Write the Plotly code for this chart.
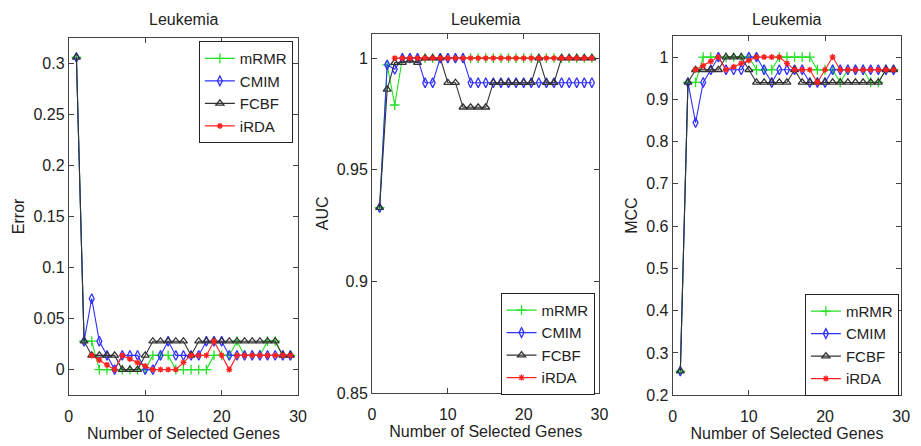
import plotly.graph_objects as go

# ---------------- data ----------------
genes = list(range(1, 30))
series_names = ["mRMR", "CMIM", "FCBF", "iRDA"]

mrmr_err = [0.3056, 0.0278, 0.0278, 0, 0, 0, 0, 0, 0, 0,
            0.0139, 0.0139, 0.0139, 0, 0, 0, 0, 0, 0.0139, 0.0139,
            0.0139, 0.0278, 0.0139, 0.0139, 0.0139, 0.0278, 0.0278, 0.0139, 0.0139]
cmim_err = [0.3056, 0.0278, 0.0694, 0.0278, 0.0139, 0, 0.0139, 0.0139, 0.0139, 0,
            0, 0.0139, 0.0278, 0.0139, 0.0139, 0.0139, 0.0139, 0.0278, 0.0278, 0.0278,
            0.0139, 0.0139, 0.0139, 0.0139, 0.0139, 0.0139, 0.0139, 0.0139, 0.0139]
fcbf_err = [0.3056, 0.0278, 0.0139, 0.0139, 0.0139, 0.0139, 0, 0, 0, 0.0139,
            0.0278, 0.0278, 0.0278, 0.0278, 0.0278, 0.0139, 0.0278, 0.0278, 0.0278, 0.0278,
            0.0278, 0.0278, 0.0278, 0.0278, 0.0278, 0.0278, 0.0278, 0.0139, 0.0139]
irda_err = [None, None, 0.0139, 0.0093, 0.0046, 0, 0.0139, 0.0104, 0.0069, 0.0035,
            0, 0, 0, 0, 0.007, 0.0139, 0.0139, 0.0139, 0.0278, 0.0139,
            0, 0.0139, 0.0139, 0.0139, 0.0139, 0.0139, 0.0139, 0.0139, 0.0139]

mrmr_auc = [0.933, 0.997, 0.979, 1, 1, 1, 1, 1, 1, 1,
            1, 1, 1, 1, 1, 1, 1, 1, 1, 1,
            1, 1, 1, 1, 1, 1, 1, 1, 1]
cmim_auc = [0.933, 0.997, 0.995, 1, 1, 1, 0.989, 0.989, 1, 1,
            1, 1, 0.989, 0.989, 0.989, 0.989, 0.989, 0.989, 0.989, 0.989,
            0.989, 0.989, 0.989, 0.989, 0.989, 0.989, 0.989, 0.989, 0.989]
fcbf_auc = [0.933, 0.986, 0.998, 0.998, 0.999, 0.998, 1, 1, 1, 0.989,
            0.989, 0.978, 0.978, 0.978, 0.978, 0.989, 0.989, 0.989, 0.989, 0.989,
            0.989, 1, 0.989, 0.989, 1, 1, 1, 1, 1]
irda_auc = [None, None, 1, 1, 1, 1, 1, 1, 1, 1,
            1, 1, 1, 1, 1, 1, 1, 1, 1, 1,
            1, 1, 1, 1, 1, 1, 1, 1, 1]

mrmr_mcc = [0.257, 0.94, 0.94, 1, 1, 1, 1, 1, 1, 1,
            0.97, 0.97, 0.97, 1, 1, 1, 1, 1, 0.97, 0.97,
            0.97, 0.94, 0.97, 0.97, 0.97, 0.94, 0.94, 0.97, 0.97]
cmim_mcc = [0.257, 0.94, 0.845, 0.94, 0.97, 1, 0.97, 0.97, 0.97, 1,
            1, 0.97, 0.94, 0.97, 0.97, 0.97, 0.97, 0.94, 0.94, 0.94,
            0.97, 0.97, 0.97, 0.97, 0.97, 0.97, 0.97, 0.97, 0.97]
fcbf_mcc = [0.257, 0.94, 0.97, 0.97, 0.97, 0.97, 1, 1, 1, 0.97,
            0.94, 0.94, 0.94, 0.94, 0.94, 0.97, 0.94, 0.94, 0.94, 0.94,
            0.94, 0.94, 0.94, 0.94, 0.94, 0.94, 0.94, 0.97, 0.97]
irda_mcc = [None, None, 0.97, 0.98, 0.99, 1, 0.97, 0.977, 0.985, 0.992,
            1, 1, 1, 1, 0.985, 0.97, 0.97, 0.97, 0.94, 0.97,
            1, 0.97, 0.97, 0.97, 0.97, 0.97, 0.97, 0.97, 0.97]

panel_titles = ["Leukemia", "Leukemia", "Leukemia"]
y_titles = ["Error", "AUC", "MCC"]
x_title = "Number of Selected Genes"
x_ticks = [0, 10, 20, 30]
err_ticks = [0, 0.05, 0.1, 0.15, 0.2, 0.25, 0.3]
err_labels = ["0", "0.05", "0.1", "0.15", "0.2", "0.25", "0.3"]
auc_ticks = [0.85, 0.9, 0.95, 1]
auc_labels = ["0.85", "0.9", "0.95", "1"]
mcc_ticks = [0.2, 0.3, 0.4, 0.5, 0.6, 0.7, 0.8, 0.9, 1]
mcc_labels = ["0.2", "0.3", "0.4", "0.5", "0.6", "0.7", "0.8", "0.9", "1"]

# ---------------- style ----------------
FONT = "Liberation Sans, Arial, Helvetica, sans-serif"
styles = {
    "mRMR": dict(color="#22e022", symbol="cross-thin-open", size=7),
    "CMIM": dict(color="#3030ff", symbol="diamond-tall-open", size=7),
    "FCBF": dict(color="#333333", symbol="triangle-up-open", size=7),
    "iRDA": dict(color="#ff2020", symbol="asterisk-open", size=5),
}

panels = [
    ([mrmr_err, cmim_err, fcbf_err, irda_err], "x", "y", "legend"),
    ([mrmr_auc, cmim_auc, fcbf_auc, irda_auc], "x2", "y2", "legend2"),
    ([mrmr_mcc, cmim_mcc, fcbf_mcc, irda_mcc], "x3", "y3", "legend3"),
]

fig = go.Figure()
for vals, xa, ya, lg in panels:
    for name, v in zip(series_names, vals):
        s = styles[name]
        fig.add_trace(go.Scatter(
            x=genes, y=v, name=name, mode="lines+markers",
            xaxis=xa, yaxis=ya, legend=lg,
            line=dict(color=s["color"], width=1.1),
            marker=dict(symbol=s["symbol"], size=s["size"], color=s["color"],
                        line=dict(color=s["color"], width=1.3)),
        ))

W, H = 921, 446
def fx(px):
    return px / W
def fy(py):
    return (H - py) / H

axis_common = dict(
    showline=True, linecolor="#444", linewidth=1, mirror="ticks",
    ticks="inside", ticklen=5, tickcolor="#444", showgrid=False, zeroline=False,
    tickfont=dict(family=FONT, size=16, color="#222"),
)

x_domains = [(65.7, 298.3), (373.3, 604.0), (678.3, 910.0)]
y_domains = [(38.3, 403.3), (34.3, 401.0), (36.7, 403.3)]
y_ranges = [[-0.025, 0.325], [0.85, 1.011], [0.2, 1.05]]
y_tick_sets = [(err_ticks, err_labels), (auc_ticks, auc_labels), (mcc_ticks, mcc_labels)]

layout = dict(
    width=W, height=H, margin=dict(l=0, r=0, t=0, b=0),
    paper_bgcolor="white", plot_bgcolor="white",
    font=dict(family=FONT, size=16, color="#222"),
    annotations=[],
)
for i in range(3):
    sfx = "" if i == 0 else str(i + 1)
    xl, xr = x_domains[i]
    yt, yb = y_domains[i]
    layout["xaxis" + sfx] = dict(
        axis_common, domain=[fx(xl), fx(xr)], range=[0, 30],
        tickvals=x_ticks, ticktext=[str(t) for t in x_ticks],
        anchor="y" + sfx, ticklabelstandoff=7,
        title=dict(text=x_title, font=dict(family=FONT, size=16, color="#222"), standoff=0),
    )
    tv, tt = y_tick_sets[i]
    layout["yaxis" + sfx] = dict(
        axis_common, domain=[fy(yb), fy(yt)], range=y_ranges[i],
        tickvals=tv, ticktext=tt, anchor="x" + sfx,
        title=dict(text=y_titles[i], font=dict(family=FONT, size=16, color="#222"), standoff=4),
    )
    layout["annotations"].append(dict(
        text=panel_titles[i], x=(fx(xl) + fx(xr)) / 2, y=fy(20),
        xref="paper", yref="paper", xanchor="center", yanchor="middle",
        showarrow=False, font=dict(family=FONT, size=16, color="#222"),
    ))

legend_common = dict(
    bgcolor="white", bordercolor="#222", borderwidth=1,
    font=dict(family=FONT, size=15, color="#222"),
    tracegroupgap=0,
)
layout["legend"] = dict(legend_common, x=fx(293), xanchor="right", y=fy(42), yanchor="top")
layout["legend2"] = dict(legend_common, x=fx(599), xanchor="right", y=fy(403), yanchor="bottom")
layout["legend3"] = dict(legend_common, x=fx(907.7), xanchor="right", y=fy(404), yanchor="bottom")

fig.update_layout(**layout)
fig.write_html("out.html")
